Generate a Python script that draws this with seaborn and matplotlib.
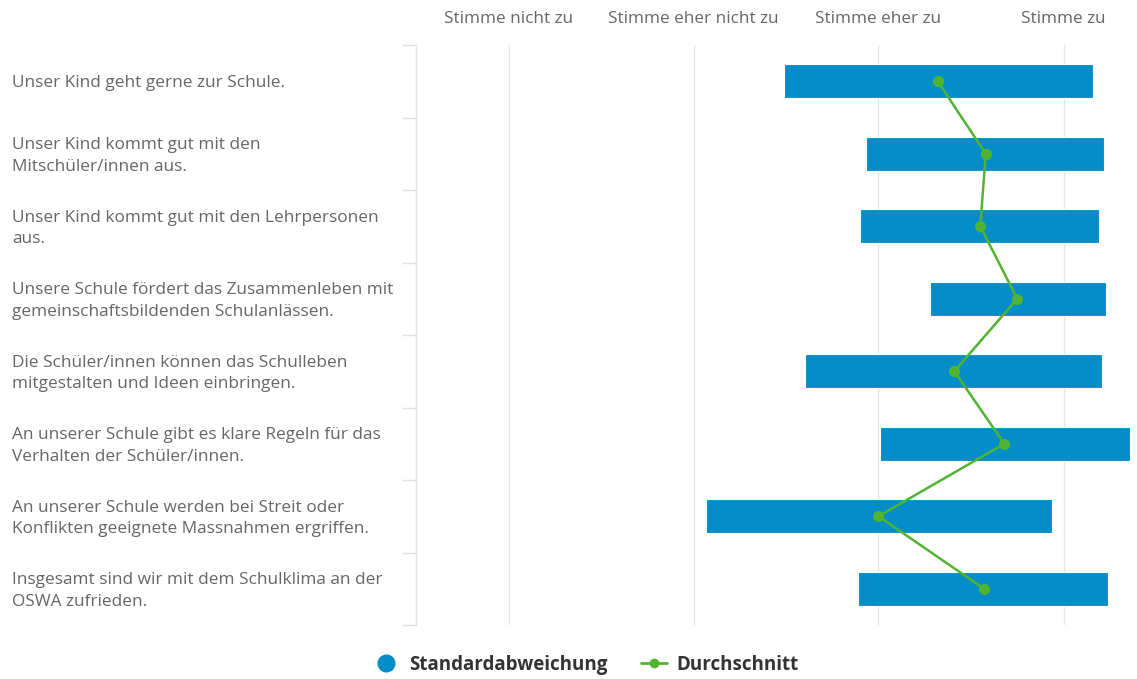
import matplotlib
matplotlib.use("Agg")
import matplotlib.pyplot as plt
import matplotlib.transforms as mtransforms
from matplotlib.lines import Line2D
import seaborn as sns
import numpy as np

# === DATEN ===
aussagen = [
    "Unser Kind geht gerne zur Schule.",
    "Unser Kind kommt gut mit den\nMitschüler/innen aus.",
    "Unser Kind kommt gut mit den Lehrpersonen\naus.",
    "Unsere Schule fördert das Zusammenleben mit\ngemeinschaftsbildenden Schulanlässen.",
    "Die Schüler/innen können das Schulleben\nmitgestalten und Ideen einbringen.",
    "An unserer Schule gibt es klare Regeln für das\nVerhalten der Schüler/innen.",
    "An unserer Schule werden bei Streit oder\nKonflikten geeignete Massnahmen ergriffen.",
    "Insgesamt sind wir mit dem Schulklima an der\nOSWA zufrieden.",
]
skala = ["Stimme nicht zu", "Stimme eher nicht zu", "Stimme eher zu", "Stimme zu"]
sd_unten = [2.49, 2.93, 2.90, 3.28, 2.60, 3.01, 2.07, 2.89]
sd_oben = [4.16, 4.22, 4.19, 4.23, 4.21, 4.36, 3.94, 4.24]
durchschnitt = [3.32, 3.58, 3.55, 3.75, 3.41, 3.68, 3.00, 3.57]

BLAU = "#058DC7"
GRUEN = "#50B432"

sns.set_style("white")
plt.rcParams["font.family"] = ["Open Sans", "DejaVu Sans"]

fig = plt.figure(figsize=(11.37, 6.79), dpi=100)
ax = fig.add_axes([416 / 1137, 1 - 625 / 679, 721 / 1137, 580 / 679])

pos = np.arange(len(aussagen))
breite = np.array(sd_oben) - np.array(sd_unten)
ax.barh(pos, breite, left=sd_unten, height=0.47, color=BLAU,
        edgecolor="white", linewidth=0.8, zorder=2)

sns.lineplot(x=durchschnitt, y=pos, orient="y", sort=False, ax=ax,
             color=GRUEN, linewidth=1.8, marker="o", markersize=8,
             markeredgewidth=0, zorder=3)

ax.set_xlim(0.5, 0.5 + 721 / 185)
ax.set_ylim(len(aussagen) - 0.5, -0.5)

# x-Achse oben
ax.xaxis.tick_top()
ax.set_xticks([1, 2, 3, 4])
ax.set_xticklabels(skala, fontsize=12.3, color="#666666")
ax.tick_params(axis="x", length=0, pad=13)
ax.grid(axis="x", color="#e6e6e6", linewidth=1, zorder=0)

# y-Achse: Trennstriche links
ax.set_yticks([])
ax.set_yticks(np.arange(-0.5, len(aussagen)), minor=True)
ax.tick_params(axis="y", which="minor", length=10, width=1, color="#e0e0e0",
               left=True)
ax.tick_params(axis="y", which="major", length=0)

for s in ["top", "right", "bottom"]:
    ax.spines[s].set_visible(False)
ax.spines["left"].set_color("#e0e0e0")
ax.spines["left"].set_linewidth(1)

trans = mtransforms.blended_transform_factory(fig.transFigure, ax.transData)
for i, txt in enumerate(aussagen):
    fig.text(12 / 1137, i + 0.03, txt, transform=trans, ha="left", va="center",
             fontsize=12.4, color="#666666", linespacing=1.45)

handles = [
    Line2D([], [], linestyle="none", marker="o", markersize=13,
           color=BLAU, markeredgewidth=0),
    Line2D([], [], color=GRUEN, linewidth=2, marker="o", markersize=7,
           markeredgewidth=0),
]
fig.legend(handles, ["Standardabweichung", "Durchschnitt"], ncol=2,
           loc="center", bbox_to_anchor=(586 / 1137, 1 - 665 / 679),
           frameon=False, prop={"weight": "bold", "size": 13.5},
           labelcolor="#333333", handlelength=1.4, handletextpad=0.5,
           columnspacing=1.8)

fig.savefig("out.png", dpi=100)
